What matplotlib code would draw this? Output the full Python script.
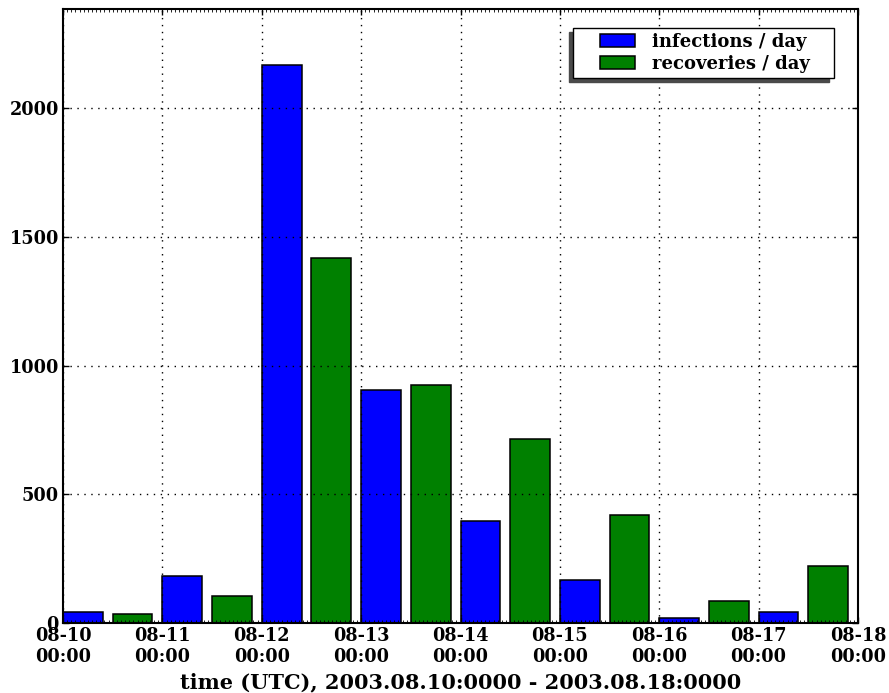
import numpy as np
import matplotlib
matplotlib.use('Agg')
import matplotlib.pyplot as plt
import matplotlib.dates as mdates
from matplotlib.patches import Rectangle
from matplotlib.container import BarContainer
from matplotlib.legend_handler import HandlerPatch, update_from_first_child

days = np.arange('2003-08-10', '2003-08-18', dtype='datetime64[D]')
infections = [43, 183, 2169, 903, 396, 168, 20, 40]
recoveries = [33, 103, 1419, 926, 716, 419, 85, 219]
labels = ['infections / day', 'recoveries / day']
xlabel = 'time (UTC), 2003.08.10:0000 - 2003.08.18:0000'

plt.rcParams['font.family'] = 'DejaVu Serif'
plt.rcParams['font.weight'] = 'bold'
plt.rcParams['xtick.direction'] = 'in'
plt.rcParams['ytick.direction'] = 'in'


def offset_patch(legend, orig_handle, xdescent, ydescent, width, height, fontsize):
    # leave some blank room left of the legend swatch
    shift = 15
    return Rectangle((-xdescent + shift, -ydescent), width - shift, height)


fig = plt.figure(figsize=(8.89, 6.93), dpi=100)
ax = fig.add_axes([0.0709, 0.1014, 0.8942, 0.8852])

x0 = mdates.date2num(days.astype('datetime64[s]').astype(object))
ax.bar(x0, infections, width=0.4, align='edge', color='#0000ff',
       edgecolor='black', linewidth=1.1, label=labels[0] + '   ')
ax.bar(x0 + 0.5, recoveries, width=0.4, align='edge', color='#008000',
       edgecolor='black', linewidth=1.1, label=labels[1] + '   ')

ax.set_xlim(x0[0], x0[0] + 8)
ax.set_ylim(0, 2385)
ax.xaxis.set_major_locator(mdates.DayLocator())
ax.xaxis.set_major_formatter(mdates.DateFormatter('%m-%d\n%H:%M'))
ax.xaxis.set_minor_locator(mdates.HourLocator())
ax.set_yticks([0, 500, 1000, 1500, 2000])

ax.tick_params(axis='both', which='major', labelsize=12.7, length=4, width=1,
               top=True, right=True, pad=3)
ax.tick_params(axis='x', which='minor', length=2, width=0.6, top=True)
for lab in ax.get_xticklabels() + ax.get_yticklabels():
    lab.set_fontweight('bold')
for s in ax.spines.values():
    s.set_linewidth(1.5)

ax.grid(True, which='major', color='black', linestyle=(0, (1, 4)), linewidth=1.0)
ax.set_axisbelow(False)
ax.set_xlabel(xlabel, fontsize=15, fontweight='bold', labelpad=5)

handler = HandlerPatch(patch_func=offset_patch, update_func=update_from_first_child)
leg = ax.legend(loc='upper right', bbox_to_anchor=(0.981, 0.985),
                shadow={'ox': -3.2, 'oy': -2.9, 'color': '#4a4a4a', 'alpha': 1},
                fancybox=False, framealpha=1, edgecolor='black',
                prop={'size': 13, 'weight': 'bold'}, handlelength=3.1,
                handletextpad=0.95, borderpad=0.3, labelspacing=0.2,
                handler_map={BarContainer: handler})
leg.get_frame().set_linewidth(1.0)

fig.savefig('out.png', dpi=100)
